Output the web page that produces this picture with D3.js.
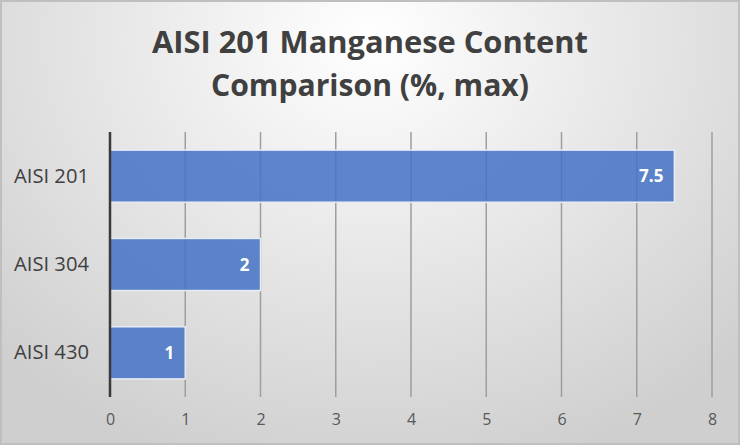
<!DOCTYPE html>
<html><head><meta charset="utf-8">
<script src="https://cdnjs.cloudflare.com/ajax/libs/d3/7.8.5/d3.min.js"></script>
<style>body{margin:0;background:#fff}svg{display:block}</style>
</head><body>
<svg id="c" width="740" height="445"></svg>
<script>
const categories = ["AISI 201", "AISI 304", "AISI 430"];
const values = [7.5, 2, 1];
const tickValues = [0, 1, 2, 3, 4, 5, 6, 7, 8];
const titleLines = ["AISI 201 Manganese Content", "Comparison (%, max)"];

const W = 740, H = 445;
const svg = d3.select("#c");
const defs = svg.append("defs");
const grad = defs.append("radialGradient").attr("id", "bg")
  .attr("gradientUnits", "userSpaceOnUse")
  .attr("cx", 370).attr("cy", 40).attr("r", 520)
  .attr("gradientTransform", "translate(370,40) scale(1,0.85) translate(-370,-40)");
grad.append("stop").attr("offset", "0").attr("stop-color", "#ffffff");
grad.append("stop").attr("offset", "1").attr("stop-color", "#cfcfcf");

svg.append("rect").attr("x", 1).attr("y", 1).attr("width", W - 2).attr("height", H - 2)
  .attr("fill", "url(#bg)").attr("stroke", "#bfbfbf").attr("stroke-width", 2);

const margin = {left: 110, right: 28, top: 132, bottom: 48};
const x = d3.scaleLinear().domain([0, 8]).range([margin.left, 712]);
const y = d3.scaleBand().domain(categories).range([margin.top, H - margin.bottom]).paddingInner(0.41).paddingOuter(0.205);

// gridlines
svg.append("g").selectAll("line").data(tickValues.filter(d => d > 0)).join("line")
  .attr("x1", d => x(d)).attr("x2", d => x(d))
  .attr("y1", margin.top).attr("y2", H - margin.bottom)
  .attr("stroke", "#9e9e9e").attr("stroke-width", 1.5);

// bars
svg.append("g").selectAll("rect").data(categories).join("rect")
  .attr("x", x(0)).attr("y", d => y(d))
  .attr("width", (d, i) => x(values[i]) - x(0)).attr("height", y.bandwidth())
  .attr("fill", "#4472c4").attr("fill-opacity", 0.85)
  .attr("stroke", "#e6ecf5").attr("stroke-width", 1.5);

// value labels
svg.append("g").selectAll("text").data(categories).join("text")
  .attr("x", (d, i) => x(values[i]) - 11).attr("y", d => y(d) + y.bandwidth() / 2)
  .attr("dy", "0.36em").attr("text-anchor", "end")
  .attr("font-family", "'Open Sans', sans-serif").attr("font-weight", "bold")
  .attr("font-size", 17).attr("fill", "#ffffff")
  .text((d, i) => values[i]);

// left axis line
svg.append("line").attr("x1", x(0)).attr("x2", x(0))
  .attr("y1", margin.top).attr("y2", H - margin.bottom)
  .attr("stroke", "#3a3a3a").attr("stroke-width", 2.5);

// x axis
const xAxis = svg.append("g").attr("transform", `translate(0,${H - margin.bottom})`)
  .call(d3.axisBottom(x).tickValues(tickValues).tickSize(0).tickPadding(17).tickFormat(d3.format("d")));
xAxis.select(".domain").remove();
xAxis.selectAll("text").attr("font-family", "'Open Sans', sans-serif").attr("font-size", 16).attr("fill", "#595959");

// y axis
const yAxis = svg.append("g").attr("transform", `translate(${margin.left},0)`)
  .call(d3.axisLeft(y).tickSize(0).tickPadding(21));
yAxis.select(".domain").remove();
yAxis.selectAll("text").attr("font-family", "'Open Sans', sans-serif").attr("font-size", 20).attr("fill", "#404040")
  .attr("textLength", 75).attr("lengthAdjust", "spacingAndGlyphs");

// title
svg.append("g").selectAll("text").data(titleLines).join("text")
  .attr("x", W / 2).attr("y", (d, i) => 53 + i * 43)
  .attr("text-anchor", "middle")
  .attr("font-family", "'Open Sans', sans-serif").attr("font-weight", "bold")
  .attr("font-size", 31).attr("fill", "#404040")
  .attr("textLength", (d, i) => i === 0 ? 436 : 318).attr("lengthAdjust", "spacingAndGlyphs")
  .text(d => d);
</script>
</body></html>
